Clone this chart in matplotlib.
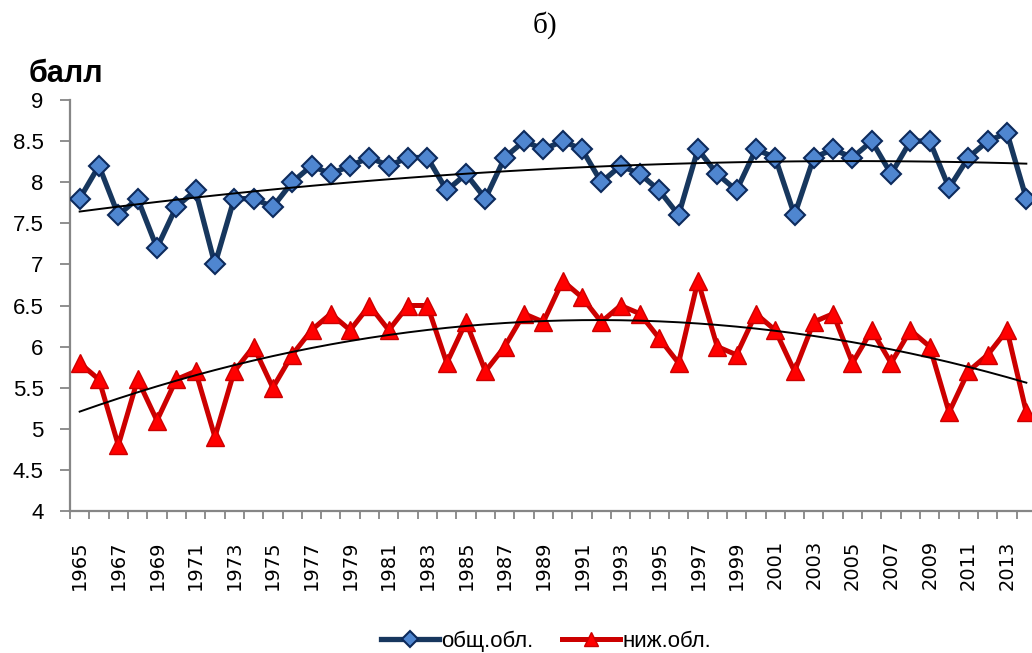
import numpy as np
import matplotlib
matplotlib.use("Agg")
import matplotlib.pyplot as plt

years = list(range(1965, 2015))

# общая облачность, баллы
total_cloud = [7.8, 8.2, 7.6, 7.8, 7.2, 7.7, 7.9, 7.0, 7.8, 7.8,
               7.7, 8.0, 8.2, 8.1, 8.2, 8.3, 8.2, 8.3, 8.3, 7.9,
               8.1, 7.8, 8.3, 8.5, 8.4, 8.5, 8.4, 8.0, 8.2, 8.1,
               7.9, 7.6, 8.4, 8.1, 7.9, 8.4, 8.3, 7.6, 8.3, 8.4,
               8.3, 8.5, 8.1, 8.5, 8.5, 7.93, 8.3, 8.5, 8.6, 7.8]

# нижняя облачность, баллы
low_cloud = [5.8, 5.6, 4.8, 5.6, 5.1, 5.6, 5.7, 4.9, 5.7, 6.0,
             5.5, 5.9, 6.2, 6.4, 6.2, 6.5, 6.2, 6.5, 6.5, 5.8,
             6.3, 5.7, 6.0, 6.4, 6.3, 6.8, 6.6, 6.3, 6.5, 6.4,
             6.1, 5.8, 6.8, 6.0, 5.9, 6.4, 6.2, 5.7, 6.3, 6.4,
             5.8, 6.2, 5.8, 6.2, 6.0, 5.2, 5.7, 5.9, 6.2, 5.2]

series_names = ["общ.обл.", "ниж.обл."]
ytick_labels = ["4", "4.5", "5", "5.5", "6", "6.5", "7", "7.5", "8", "8.5", "9"]

plt.rcParams['font.family'] = ['Liberation Sans', 'DejaVu Sans']

def perform():
    x = np.arange(len(years))

    fig = plt.figure(figsize=(10.32, 6.53), dpi=100)
    # axes runs slightly past the right edge, like the original sheet
    ax = fig.add_axes([70 / 1032, 1 - 511 / 653, 966 / 1032, 411 / 653])

    ax.plot(x, total_cloud, color="#17375E", lw=3.8, marker="D", ms=10.5,
            mfc="#4F86D0", mec="#0D2A5C", mew=1.5, label=series_names[0], zorder=3)
    ax.plot(x, low_cloud, color="#CC0000", lw=3.6, marker="^", ms=13,
            mfc="#FF0000", mec="#CC0000", mew=1.0, label=series_names[1], zorder=3)

    # polynomial (2nd order) trend lines
    for vals in (total_cloud, low_cloud):
        c = np.polyfit(x, vals, 2)
        ax.plot(x, np.polyval(c, x), color="black", lw=1.4, zorder=4)

    ax.set_ylim(4, 9)
    ax.set_xlim(-0.5, len(years) - 0.5)
    ax.set_yticks(np.arange(4, 9.01, 0.5))
    ax.set_yticklabels(ytick_labels, fontsize=16)

    ax.set_xticks(x[::2])
    ax.set_xticklabels([str(y) for y in years[::2]], rotation=90, fontsize=14,
                       family=['DejaVu Sans'])
    ax.set_xticks(np.arange(-0.5, len(years), 1), minor=True)
    ax.tick_params(axis="x", which="major", length=0, pad=21)
    ax.tick_params(axis="x", which="minor", length=6, color="#868686", width=1.3)
    ax.tick_params(axis="y", length=7, color="#868686", width=1.3, pad=12)

    for s in ("top", "right"):
        ax.spines[s].set_visible(False)
    for s in ("left", "bottom"):
        ax.spines[s].set_color("#868686")
        ax.spines[s].set_linewidth(1.6)

    fig.text(545 / 1032, 1 - 25 / 653, "б)", ha="center", va="center",
             fontsize=21, family="Liberation Serif")
    fig.text(29 / 1032, 1 - 74 / 653, "балл", ha="left", va="center",
             fontsize=22, fontweight="bold")

    fig.legend(loc="center", bbox_to_anchor=(546 / 1032, 1 - 641 / 653), ncol=2,
               frameon=False, fontsize=16, handlelength=2.6, columnspacing=1.3,
               handletextpad=0.1, markerscale=0.75)

    fig.savefig("out.png", dpi=100)

if __name__ == "__main__":
    perform()
